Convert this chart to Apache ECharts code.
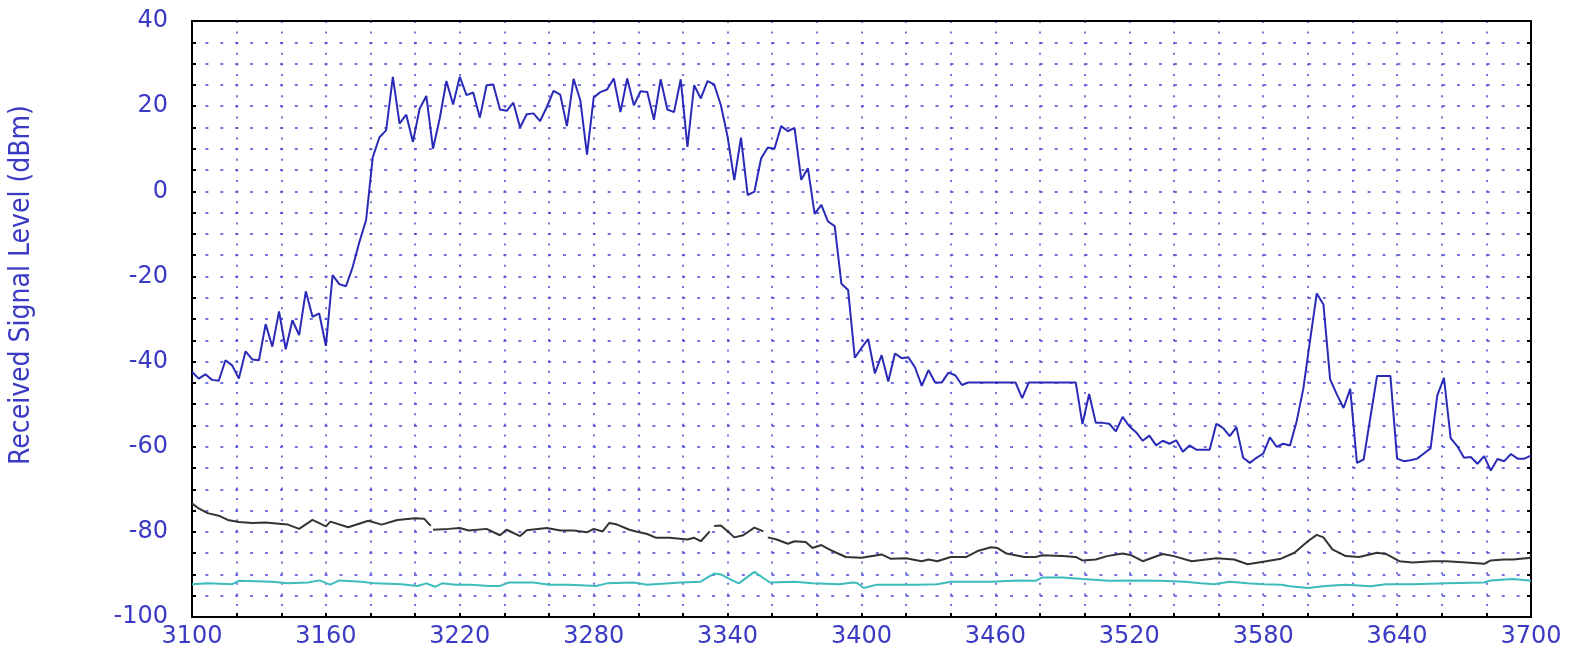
<!DOCTYPE html>
<html>
<head>
<meta charset="utf-8">
<script src="https://cdn.jsdelivr.net/npm/echarts@6.0.0/dist/echarts.min.js"></script>
<style>
    html, body { margin: 0; padding: 0; background: #fff; }
    #chart { width: 1577px; height: 655px; }
</style>
</head>
<body>
<div id="chart"></div>
<script>
// received level (blue), sampled every 3 MHz
const blueFreq = [
    3100, 3103, 3106, 3109, 3112, 3115, 3118, 3121, 3124, 3127,
    3130, 3133, 3136, 3139, 3142, 3145, 3148, 3151, 3154, 3157,
    3160, 3163, 3166, 3169, 3172, 3175, 3178, 3181, 3184, 3187,
    3190, 3193, 3196, 3199, 3202, 3205, 3208, 3211, 3214, 3217,
    3220, 3223, 3226, 3229, 3232, 3235, 3238, 3241, 3244, 3247,
    3250, 3253, 3256, 3259, 3262, 3265, 3268, 3271, 3274, 3277,
    3280, 3283, 3286, 3289, 3292, 3295, 3298, 3301, 3304, 3307,
    3310, 3313, 3316, 3319, 3322, 3325, 3328, 3331, 3334, 3337,
    3340, 3343, 3346, 3349, 3352, 3355, 3358, 3361, 3364, 3367,
    3370, 3373, 3376, 3379, 3382, 3385, 3388, 3391, 3394, 3397,
    3400, 3403, 3406, 3409, 3412, 3415, 3418, 3421, 3424, 3427,
    3430, 3433, 3436, 3439, 3442, 3445, 3448, 3451, 3454, 3457,
    3460, 3463, 3466, 3469, 3472, 3475, 3478, 3481, 3484, 3487,
    3490, 3493, 3496, 3499, 3502, 3505, 3508, 3511, 3514, 3517,
    3520, 3523, 3526, 3529, 3532, 3535, 3538, 3541, 3544, 3547,
    3550, 3553, 3556, 3559, 3562, 3565, 3568, 3571, 3574, 3577,
    3580, 3583, 3586, 3589, 3592, 3595, 3598, 3601, 3604, 3607,
    3610, 3613, 3616, 3619, 3622, 3625, 3628, 3631, 3634, 3637,
    3640, 3643, 3646, 3649, 3652, 3655, 3658, 3661, 3664, 3667,
    3670, 3673, 3676, 3679, 3682, 3685, 3688, 3691, 3694, 3697,
    3700
];
const blueLevel = [
    -42.4, -44, -43, -44.3, -44.5, -39.7, -40.9, -44, -37.6, -39.5,
    -39.7, -31.2, -36.5, -28.2, -37.1, -30.3, -33.8, -23.5, -29.5, -28.7,
    -36.3, -19.7, -21.8, -22.3, -17.8, -11.9, -6.8, 8.0, 12.7, 14.3,
    26.9, 15.9, 18.0, 11.6, 19.4, 22.4, 10.0, 17.1, 25.9, 20.4,
    26.9, 22.6, 23.2, 17.3, 24.9, 25.1, 19.2, 18.9, 20.8, 15.0,
    18.1, 18.3, 16.5, 19.8, 23.6, 22.7, 15.3, 26.4, 21.4, 8.6,
    22.0, 23.3, 23.9, 26.5, 18.6, 26.5, 20.2, 23.5, 23.3, 16.8,
    26.3, 19.2, 18.6, 26.3, 10.4, 24.9, 21.8, 25.9, 25.1, 20.2,
    12.8, 2.6, 12.6, -0.9, -0.1, 7.7, 10.3, 10.0, 15.3, 14.1,
    14.9, 2.7, 5.4, -5.3, -3.2, -7.1, -8.2, -21.7, -23.2, -39.1,
    -36.8, -34.7, -42.8, -38.5, -44.7, -38.1, -39.2, -39, -41.4, -45.7,
    -42, -44.9, -44.9, -42.6, -43.2, -45.5, -44.9, -44.9, -44.9, -44.9,
    -44.9, -44.9, -44.9, -44.9, -48.6, -44.9, -44.9, -44.9, -44.9, -44.9,
    -44.9, -44.9, -44.9, -54.7, -47.6, -54.4, -54.4, -54.6, -56.4, -53.0,
    -55.2, -56.6, -58.6, -57.4, -59.7, -58.6, -59.3, -58.5, -61.2, -59.7,
    -60.7, -60.7, -60.7, -54.6, -55.6, -57.5, -55.4, -62.6, -63.8, -62.6,
    -61.6, -57.8, -60.0, -59.3, -59.7, -54, -46.3, -35, -24, -26.6,
    -44.2, -47.7, -50.9, -46.4, -63.8, -63, -53.2, -43.4, -43.4, -43.4,
    -62.8, -63.4, -63.2, -62.8, -61.6, -60.4, -48, -43.8, -58, -59.9,
    -62.6, -62.4, -64, -62.2, -65.6, -62.9, -63.4, -61.7, -62.8, -62.8,
    -62.1
];

// black trace (null = break in the line)
const blackFreq = [
    3100, 3103, 3107, 3112, 3116, 3121, 3127, 3133, 3139, 3143,
    3148, 3154, 3160, 3162, 3170, 3179, 3185, 3192, 3200, 3204,
    3207, 3207.5, 3208, 3215, 3220, 3224, 3232, 3238, 3241, 3247,
    3250, 3259, 3265, 3271, 3277, 3280, 3284, 3287, 3290, 3296,
    3299, 3304, 3308, 3314, 3322, 3325, 3328, 3332, 3333, 3334,
    3337, 3341, 3343, 3347, 3352, 3356, 3357, 3358, 3362, 3367,
    3370, 3375, 3378, 3382, 3387, 3393, 3400, 3409, 3413, 3420,
    3427, 3430, 3434, 3440, 3447, 3452, 3458, 3461, 3465, 3473,
    3478, 3481, 3490, 3496, 3499, 3505, 3510, 3517, 3521, 3526,
    3535, 3540, 3548, 3559, 3567, 3573, 3580, 3588, 3594, 3600,
    3604, 3607, 3611, 3617, 3623, 3631, 3635, 3641, 3647, 3656,
    3662, 3671, 3679, 3682, 3688, 3692, 3700
];
const blackLevel = [
    -73.3, -74.5, -75.6, -76.2, -77.2, -77.7, -77.9, -77.8, -78.1, -78.3,
    -79.3, -77.2, -78.7, -77.6, -78.9, -77.4, -78.3, -77.2, -76.8, -76.9,
    -78.6, null, -79.5, -79.3, -79.1, -79.7, -79.3, -80.8, -79.5, -81,
    -79.6, -79.1, -79.7, -79.7, -80.1, -79.3, -79.9, -77.9, -78.2, -79.5,
    -79.9, -80.5, -81.4, -81.4, -81.8, -81.4, -82.2, -79.9, null, -78.6,
    -78.5, -80.3, -81.3, -80.8, -79, -79.9, null, -81.3, -81.8, -82.8,
    -82.2, -82.4, -83.8, -83.1, -84.5, -85.9, -86.1, -85.3, -86.3, -86.2,
    -86.9, -86.5, -86.9, -85.9, -85.9, -84.5, -83.6, -83.8, -85.1, -85.9,
    -85.9, -85.5, -85.7, -85.9, -86.7, -86.5, -85.7, -85.1, -85.5, -86.9,
    -85.2, -85.7, -86.9, -86.2, -86.5, -87.6, -87, -86.3, -84.9, -82.2,
    -80.7, -81.3, -84.1, -85.7, -85.9, -84.9, -85.2, -86.9, -87.2, -86.9,
    -86.9, -87.2, -87.5, -86.7, -86.5, -86.5, -86.1
];

// cyan trace
const cyanFreq = [
    3100, 3107, 3118, 3121, 3136, 3143, 3152, 3157, 3162, 3166,
    3176, 3182, 3194, 3201, 3205, 3209, 3212, 3218, 3225, 3233,
    3238, 3242, 3253, 3260, 3269, 3281, 3286, 3298, 3304, 3319,
    3328, 3331, 3334, 3337, 3341, 3345, 3352, 3359, 3370, 3378,
    3390, 3396, 3398, 3401, 3407, 3425, 3434, 3440, 3458, 3470,
    3478, 3481, 3490, 3499, 3511, 3523, 3534, 3545, 3552, 3558,
    3565, 3573, 3580, 3588, 3592, 3600, 3608, 3617, 3628, 3635,
    3647, 3662, 3679, 3682, 3692, 3700
];
const cyanLevel = [
    -92.3, -92.1, -92.3, -91.5, -91.7, -92.1, -91.9, -91.4, -92.4, -91.4,
    -91.7, -92.1, -92.3, -92.7, -92.1, -92.9, -92.1, -92.4, -92.4, -92.7,
    -92.7, -91.9, -91.9, -92.4, -92.4, -92.7, -92.1, -91.9, -92.4, -91.9,
    -91.7, -90.7, -89.8, -90, -91.1, -92.1, -89.4, -91.9, -91.7, -92.1,
    -92.3, -91.9, -92, -93.2, -92.4, -92.4, -92.3, -91.7, -91.7, -91.4,
    -91.5, -90.7, -90.7, -91.1, -91.5, -91.4, -91.5, -91.7, -92.1, -92.3,
    -91.7, -92.1, -92.3, -92.4, -92.8, -93.2, -92.7, -92.4, -92.8, -92.3,
    -92.3, -92.1, -91.9, -91.4, -91.1, -91.5
];

const labelColor = '#3a3ac4';
const gridColor = '#4646d2';
const labelFont = "'DejaVu Sans', sans-serif";

const pairs = (xs, ys) => xs.map((x, i) => [x, ys[i] === null ? '-' : ys[i]]);

const myChart = echarts.init(document.getElementById('chart'));

const option = {
    animation: false,
    backgroundColor: '#fff',
    grid: {
        left: 192,
        top: 21,
        right: 46,
        bottom: 38,
    },
    xAxis: [
        {
            type: 'value',
            min: 3100,
            max: 3700,
            interval: 20,
            position: 'bottom',
            axisLine: { show: true, onZero: false, lineStyle: { color: '#000', width: 2 } },
            axisTick: { show: true, inside: true, length: 4, lineStyle: { color: '#000', width: 2 } },
            axisLabel: {
                // only every third tick carries a label
                formatter: v => ((v - 3100) % 60 === 0 ? String(v) : ''),
                color: labelColor,
                fontSize: 24,
                fontFamily: labelFont,
                margin: 8,
            },
            splitLine: {
                show: true,
                lineStyle: { color: gridColor, width: 1.5, type: [2, 8.6] },
            },
        },
        {
            type: 'value',
            min: 3100,
            max: 3700,
            position: 'top',
            axisLine: { show: true, onZero: false, lineStyle: { color: '#000', width: 2 } },
            axisTick: { show: false },
            axisLabel: { show: false },
            splitLine: { show: false },
        },
    ],
    yAxis: [
        {
            type: 'value',
            min: -100,
            max: 40,
            interval: 5,
            position: 'left',
            axisLine: { show: true, onZero: false, lineStyle: { color: '#000', width: 2 } },
            axisTick: { show: true, inside: true, length: 4, lineStyle: { color: '#000', width: 2 } },
            axisLabel: {
                formatter: v => (v % 20 === 0 ? String(v) : ''),
                color: labelColor,
                fontSize: 24,
                fontFamily: labelFont,
                margin: 24,
            },
            splitLine: {
                show: true,
                lineStyle: { color: gridColor, width: 1.5, type: [3, 11.9], dashOffset: 1.5 },
            },
        },
        {
            type: 'value',
            min: -100,
            max: 40,
            interval: 5,
            position: 'right',
            axisLine: { show: true, onZero: false, lineStyle: { color: '#000', width: 2 } },
            axisTick: { show: true, inside: true, length: 4, lineStyle: { color: '#000', width: 2 } },
            axisLabel: { show: false },
            splitLine: { show: false },
        },
    ],
    graphic: [
        {
            type: 'text',
            x: 22,
            y: 285,
            rotation: Math.PI / 2,
            style: {
                text: 'Received Signal Level (dBm)',
                fill: labelColor,
                font: "28px 'DejaVu Sans Condensed', 'Liberation Sans Narrow', sans-serif",
                align: 'center',
                verticalAlign: 'middle',
            },
        },
    ],
    series: [
        {
            name: 'cyan',
            type: 'line',
            data: pairs(cyanFreq, cyanLevel),
            showSymbol: false,
            symbol: 'none',
            lineStyle: { color: '#3cbcbc', width: 2 },
            z: 3,
        },
        {
            name: 'black',
            type: 'line',
            data: pairs(blackFreq, blackLevel),
            showSymbol: false,
            symbol: 'none',
            connectNulls: false,
            lineStyle: { color: '#333333', width: 2 },
            z: 4,
        },
        {
            name: 'level',
            type: 'line',
            data: pairs(blueFreq, blueLevel),
            showSymbol: false,
            symbol: 'none',
            lineStyle: { color: '#2a2ab8', width: 2 },
            z: 5,
        },
    ],
};

myChart.setOption(option);
</script>
</body>
</html>
